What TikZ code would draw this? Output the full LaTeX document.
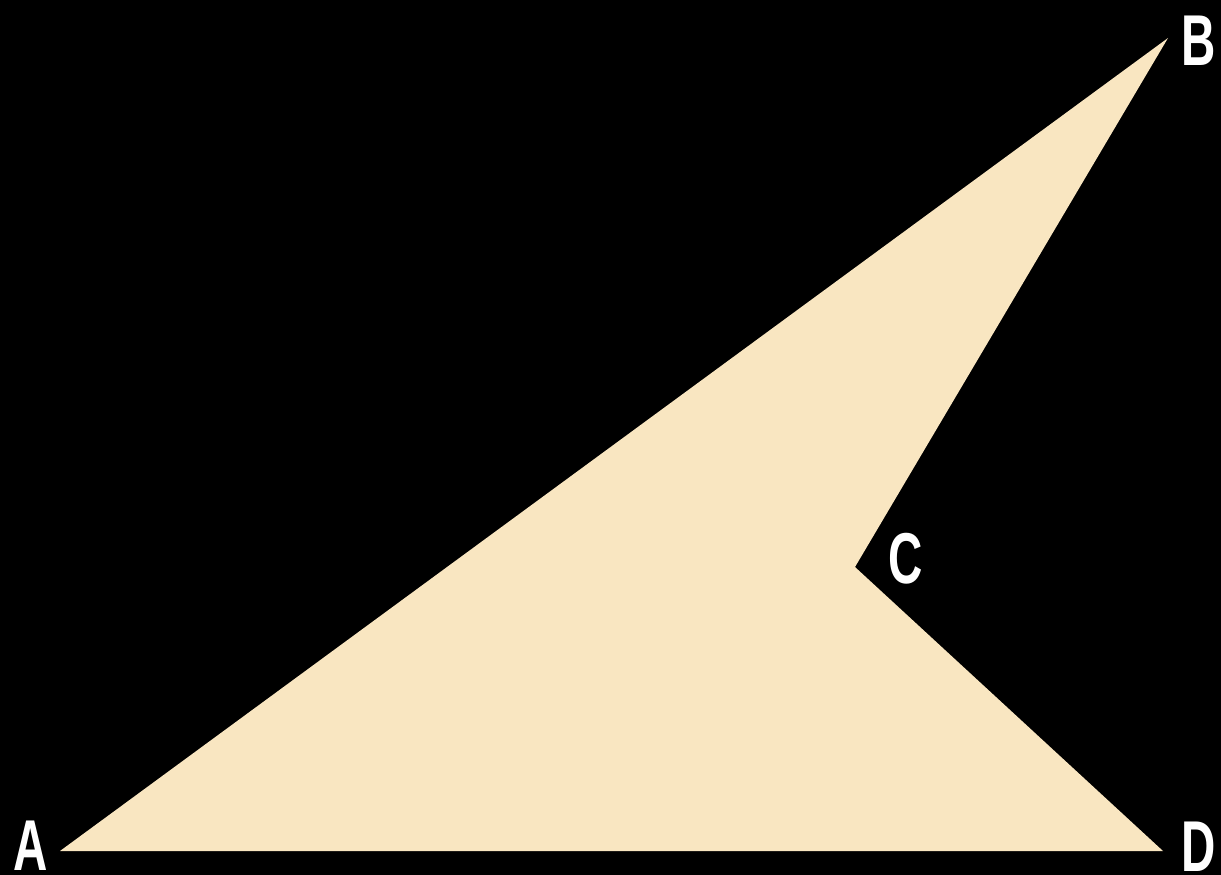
\documentclass[tikz,border=0pt]{standalone}
\usepackage{fontspec}
\setmainfont{Liberation Sans}
\definecolor{paper}{RGB}{249,230,193}
\tikzset{
  lbl/.style={text=white, font=\fontsize{72}{72}\selectfont\bfseries, inner sep=0pt, xscale=0.66}
}
\begin{document}
\begin{tikzpicture}[x=1pt,y=-1pt]
\fill[black] (0,0) rectangle (1221,875);
\useasboundingbox (0,0) rectangle (1221,875);
\coordinate (A) at (60,851);
\coordinate (B) at (1168,38);
\coordinate (C) at (855,567);
\coordinate (D) at (1163,851);
\fill[paper] (A) -- (B) -- (C) -- (D) -- cycle;
\node[lbl] (lA) at (31,846) {A};
\node[lbl] (lB) at (1199,41) {B};
\node[lbl] (lC) at (906,559) {C};
\node[lbl] (lD) at (1199,847) {D};
\end{tikzpicture}
\end{document}
